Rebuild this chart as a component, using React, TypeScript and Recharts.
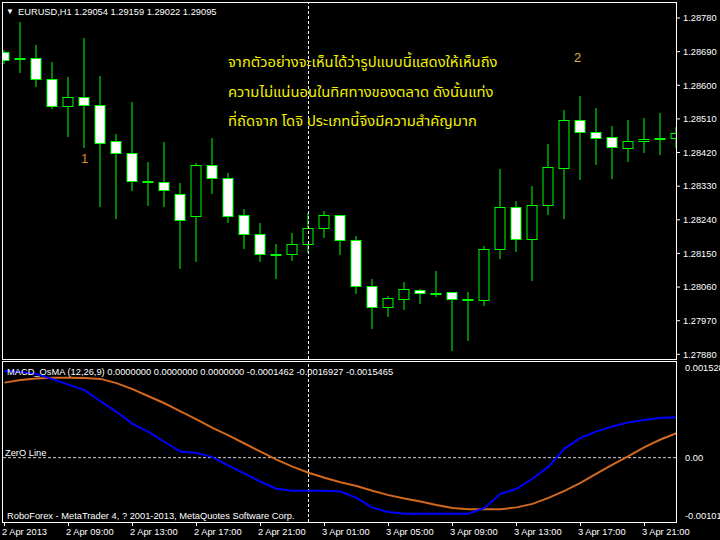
import React from "react";
import {
  ComposedChart,
  LineChart,
  Bar,
  Line,
  XAxis,
  YAxis,
  ReferenceLine,
} from "recharts";

// EURUSD H1 candles, 2 Apr 05:00 .. 3 Apr 23:00
const openPrices = [
  1.28689, 1.28671, 1.28672, 1.28616, 1.28543, 1.28568, 1.28546, 1.2845, 1.28418, 1.28342,
  1.2834, 1.28308, 1.28248, 1.28386, 1.28351, 1.28252, 1.28201, 1.28148, 1.28148, 1.28174,
  1.28217, 1.28252, 1.28185, 1.28062, 1.28006, 1.28027, 1.28051, 1.28044, 1.28046, 1.28026,
  1.28024, 1.28161, 1.28273, 1.28188, 1.28279, 1.28378, 1.28506, 1.28474, 1.28461, 1.28431,
  1.2845, 1.28457, 1.28458,
];
const highPrices = [
  1.28694, 1.28769, 1.28708, 1.28662, 1.28621, 1.28726, 1.28625, 1.2847, 1.28555, 1.28395,
  1.28448, 1.28338, 1.28391, 1.28459, 1.28365, 1.28269, 1.28231, 1.28175, 1.28205, 1.28257,
  1.28264, 1.28253, 1.28197, 1.28082, 1.28036, 1.28074, 1.28055, 1.28103, 1.28047, 1.28047,
  1.28171, 1.28376, 1.2829, 1.2833, 1.28443, 1.28534, 1.28571, 1.2854, 1.28491, 1.28507,
  1.28512, 1.28526, 1.28488,
];
const lowPrices = [
  1.28656, 1.28634, 1.28596, 1.28537, 1.28462, 1.28433, 1.28275, 1.28241, 1.28318, 1.28278,
  1.28275, 1.28107, 1.28128, 1.2831, 1.28232, 1.28163, 1.28128, 1.28082, 1.28131, 1.28152,
  1.28192, 1.28147, 1.28042, 1.27949, 1.27981, 1.27999, 1.28015, 1.28034, 1.2789, 1.27916,
  1.2801, 1.28136, 1.28155, 1.28077, 1.28254, 1.28241, 1.28347, 1.28387, 1.2835, 1.28395,
  1.2842, 1.28414, 1.28433,
];
const closePrices = [
  1.28666, 1.28671, 1.28616, 1.28543, 1.28568, 1.28546, 1.28445, 1.28418, 1.28343, 1.28342,
  1.28319, 1.28239, 1.28386, 1.2835, 1.28248, 1.28201, 1.28148, 1.28148, 1.28174, 1.28217,
  1.28252, 1.28185, 1.28061, 1.28006, 1.2803, 1.28054, 1.28043, 1.28044, 1.28027, 1.28026,
  1.28161, 1.28273, 1.28188, 1.28279, 1.2838, 1.28506, 1.28474, 1.28458, 1.28434, 1.2845,
  1.28456, 1.28457, 1.2847,
];

// MACD_OsMA (12,26,9) lines
const macdMain = [
  0.001369, 0.001353, 0.001321, 0.001242, 0.001154, 0.001067, 0.000892, 0.000725, 0.000534, 0.000407,
  0.000248, 0.000096, 0.000073, 0.000009, -0.000126, -0.000253, -0.000381, -0.000492, -0.000524, -0.000524,
  -0.000524, -0.000535, -0.000635, -0.00079, -0.000858, -0.000885, -0.000885, -0.000885, -0.000885, -0.000885,
  -0.000794, -0.000572, -0.000492, -0.000333, -0.000142, 0.000144, 0.000311, 0.000415, 0.000494, 0.000558,
  0.000597, 0.000629, 0.000637,
];
const macdSignal = [
  0.001186, 0.001226, 0.001253, 0.001262, 0.001262, 0.001258, 0.001245, 0.001178, 0.001083, 0.000971,
  0.00086, 0.000733, 0.000605, 0.00047, 0.000351, 0.000224, 0.000096, -0.000031, -0.000142, -0.000238,
  -0.000317, -0.000389, -0.000449, -0.000524, -0.000592, -0.000646, -0.000694, -0.000747, -0.000794, -0.000815,
  -0.000815, -0.000815, -0.000786, -0.000731, -0.000635, -0.000524, -0.000397, -0.000253, -0.00011, 0.000025,
  0.000168, 0.000287, 0.000388,
];

const timeTicks = [0, 4, 8, 12, 16, 20, 24, 28, 32, 36, 40];
const timeLabels = [
  "2 Apr 2013", "2 Apr 09:00", "2 Apr 13:00", "2 Apr 17:00", "2 Apr 21:00", "3 Apr 01:00",
  "3 Apr 05:00", "3 Apr 09:00", "3 Apr 13:00", "3 Apr 17:00", "3 Apr 21:00",
];
const priceTicks = [
  1.2788, 1.2797, 1.2806, 1.2815, 1.2824, 1.2833, 1.2842, 1.2851, 1.286, 1.2869, 1.2878,
];
const macdTicks = [-0.001017, 0, 0.001528];
const macdTickLabels = ["-0.001017", "0.00", "0.001528"];
const daySeparator = 19; // 3 Apr 00:00

const thaiLines = [
  "จากตัวอย่างจะเห็นได้ว่ารูปแบบนี้แสดงให้เห็นถึง",
  "ความไม่แน่นอนในทิศทางของตลาด ดังนั้นแท่ง",
  "ที่ถัดจาก โดจิ ประเภทนี้จึงมีความสำคัญมาก",
];

const candles = openPrices.map((open, i) => ({
  i,
  open,
  high: highPrices[i],
  low: lowPrices[i],
  close: closePrices[i],
  range: [lowPrices[i], highPrices[i]],
}));
const macdRows = macdMain.map((main, i) => ({ i, main, signal: macdSignal[i] }));

const FONT = '"Liberation Sans", Arial, sans-serif';
const FS = 9.3;
const GREEN = "#00ff00";
const X_DOMAIN: [number, number] = [-0.15625, 41.96875];
const PRICE_DOMAIN: [number, number] = [1.278675, 1.288228];
const MACD_DOMAIN: [number, number] = [-0.001017, 0.001528];

const snap = (v: number) => Math.round(v - 0.5) + 0.5;

function Candle(props: any) {
  const { x, y, width, height, payload } = props;
  if (x == null || y == null) return null;
  const { open, close, high, low } = payload;
  const top = height >= 0 ? y : y + height;
  const h = Math.abs(height);
  const toY = (v: number) => top + ((high - v) / (high - low)) * h;
  const cx = x + width / 2;
  const bodyTop = snap(toY(Math.max(open, close)));
  const bodyBottom = snap(toY(Math.min(open, close)));
  const fill = close < open ? "#ffffff" : "#000000";
  return (
    <g>
      <line
        x1={cx}
        x2={cx}
        y1={Math.round(toY(high))}
        y2={Math.round(toY(low))}
        stroke={GREEN}
        strokeWidth={1}
      />
      <rect
        x={cx - 5}
        y={bodyTop}
        width={10}
        height={Math.max(bodyBottom - bodyTop, 1)}
        fill={fill}
        stroke={GREEN}
        strokeWidth={1}
      />
    </g>
  );
}

function PriceTick(props: any) {
  const { x, y, payload } = props;
  return (
    <text x={x} y={y} dy="0.355em" fill="#fff" fontSize={FS} fontFamily={FONT} textAnchor="start">
      {Number(payload.value).toFixed(5)}
    </text>
  );
}

function MacdTick(props: any) {
  const { x, y, payload } = props;
  const k = macdTicks.indexOf(payload.value);
  const baseline = k === 2 ? y + 10 : k === 0 ? y - 3 : y + 3.2;
  return (
    <text x={x - 2} y={baseline} fill="#fff" fontSize={FS} fontFamily={FONT} textAnchor="start">
      {macdTickLabels[k]}
    </text>
  );
}

function TimeTick(props: any) {
  const { x, y, payload } = props;
  const k = timeTicks.indexOf(payload.value);
  return (
    <text x={x - 2.5} y={y} dy="0.71em" fill="#fff" fontSize={FS} fontFamily={FONT} textAnchor="start">
      {timeLabels[k]}
    </text>
  );
}

export default function App() {
  return (
    <div
      style={{
        position: "fixed",
        left: 0,
        top: 0,
        width: 720,
        height: 540,
        background: "#000",
        overflow: "hidden",
      }}
    >
      <div style={{ position: "absolute", left: 0, top: 0 }}>
        <ComposedChart
          width={720}
          height={360}
          data={candles}
          margin={{ top: 2, right: 0, bottom: 1, left: 2 }}
        >
          <XAxis dataKey="i" type="number" domain={X_DOMAIN} allowDataOverflow hide />
          <YAxis
            orientation="right"
            width={44}
            domain={PRICE_DOMAIN}
            allowDataOverflow
            ticks={priceTicks}
            interval={0}
            axisLine={false}
            tickLine={{ stroke: "#fff" }}
            tickSize={4}
            tickMargin={3}
            tick={<PriceTick />}
          />
          <ReferenceLine x={daySeparator} stroke="#fff" strokeDasharray="3 2" />
          <Bar dataKey="range" barSize={11} shape={<Candle />} isAnimationActive={false} />
        </ComposedChart>
      </div>

      <div style={{ position: "absolute", left: 0, top: 361 }}>
        <LineChart
          width={720}
          height={179}
          data={macdRows}
          margin={{ top: 0, right: 0, bottom: 0, left: 2 }}
        >
          <XAxis
            dataKey="i"
            type="number"
            domain={X_DOMAIN}
            allowDataOverflow
            ticks={timeTicks}
            interval={0}
            height={18}
            axisLine={false}
            tickLine={{ stroke: "#fff" }}
            tickSize={4}
            tickMargin={2}
            tick={<TimeTick />}
          />
          <YAxis
            orientation="right"
            width={44}
            domain={MACD_DOMAIN}
            allowDataOverflow
            ticks={macdTicks}
            interval={0}
            axisLine={false}
            tickLine={false}
            tickMargin={5}
            tick={<MacdTick />}
          />
          <ReferenceLine y={0} stroke="#d0d0d0" strokeDasharray="3 2" />
          <ReferenceLine x={daySeparator} stroke="#fff" strokeDasharray="3 2" />
          <Line
            dataKey="signal"
            type="linear"
            stroke="#d2691e"
            strokeWidth={2}
            dot={false}
            isAnimationActive={false}
          />
          <Line
            dataKey="main"
            type="linear"
            stroke="#0000ff"
            strokeWidth={2}
            dot={false}
            isAnimationActive={false}
          />
        </LineChart>
      </div>

      {/* panel frames */}
      <div
        style={{
          position: "absolute",
          left: 2,
          top: 2,
          width: 675,
          height: 358,
          boxSizing: "border-box",
          border: "1px solid #fff",
          pointerEvents: "none",
        }}
      />
      <div
        style={{
          position: "absolute",
          left: 2,
          top: 361,
          width: 675,
          height: 162,
          boxSizing: "border-box",
          border: "1px solid #fff",
          pointerEvents: "none",
        }}
      />

      <svg
        width={720}
        height={540}
        style={{ position: "absolute", left: 0, top: 0, pointerEvents: "none" }}
      >
        <g fontFamily={FONT} fontSize={FS} fill="#fff" style={{ whiteSpace: "pre" }}>
          <text x={6} y={14} fontSize={8}>▼</text>
          <text x={18} y={14.5}>EURUSD,H1  1.29054 1.29159 1.29022 1.29095</text>
          <text x={7} y={374.5}>
            MACD_OsMA (12,26,9) 0.0000000 0.0000000 0.0000000 -0.0001462 -0.0016927 -0.0015465
          </text>
          <text x={5} y={456}>ZerO Line</text>
          <text x={7} y={519}>RoboForex - MetaTrader 4, ? 2001-2013, MetaQuotes Software Corp.</text>
        </g>
        <g fontFamily='"Noto Sans Thai", "Noto Sans", "DejaVu Sans", sans-serif' fontSize={14.8} fill="#f0f000">
          {thaiLines.map((line, k) => (
            <text key={k} x={228} y={67 + k * 29.5}>
              {line}
            </text>
          ))}
        </g>
        <text x={81} y={163} fontFamily={FONT} fontSize={13} fill="#d88a2a">1</text>
        <text x={574} y={62} fontFamily={FONT} fontSize={13} fill="#d8b84a">2</text>
      </svg>
    </div>
  );
}
